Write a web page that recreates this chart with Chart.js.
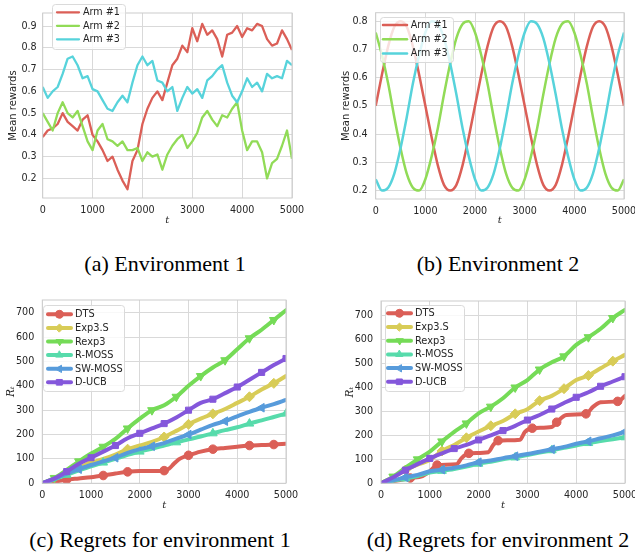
<!DOCTYPE html>
<html>
<head>
<meta charset="utf-8">
<script src="https://cdn.jsdelivr.net/npm/chart.js@4.4.0/dist/chart.umd.min.js"></script>
<style>
body { margin: 0; background: #fff; width: 635px; height: 556px; position: relative; overflow: hidden; }
canvas { position: absolute; }
.cap { position: absolute; font-family: "Liberation Serif", "DejaVu Serif", serif; font-size: 22px; line-height: 24px; color: #000; white-space: nowrap; transform: translateX(-50%); }
</style>
</head>
<body>
<canvas id="envA" width="310" height="232" style="left:0;top:0"></canvas>
<canvas id="envB" width="317" height="232" style="left:318px;top:0"></canvas>
<canvas id="regA" width="310" height="232" style="left:0;top:285px"></canvas>
<canvas id="regB" width="317" height="232" style="left:318px;top:285px"></canvas>
<div class="cap" style="left:165px;top:252px">(a) Environment 1</div>
<div class="cap" style="left:498px;top:252px">(b) Environment 2</div>
<div class="cap" style="left:160px;top:528px">(c) Regrets for environment 1</div>
<div class="cap" style="left:498px;top:528px">(d) Regrets for environment 2</div>
<script>
// time steps
const tArms = [0,100,200,300,400,500,600,700,800,900,1000,1100,1200,1300,1400,1500,1600,1700,1800,1900,2000,
    2100,2200,2300,2400,2500,2600,2700,2800,2900,3000,3100,3200,3300,3400,3500,3600,3700,3800,3900,4000,
    4100,4200,4300,4400,4500,4600,4700,4800,4900,5000];
const tSine = [0,125,250,375,500,625,750,875,1000,1125,1250,1375,1500,1625,1750,1875,2000,2125,2250,2375,2500,
    2625,2750,2875,3000,3125,3250,3375,3500,3625,3750,3875,4000,4125,4250,4375,4500,4625,4750,4875,5000];
const tReg = [0,250,500,750,1000,1250,1500,1750,2000,2250,2500,2750,3000,3250,3500,3750,4000,4250,4500,4750,5000];
const tDtsA = [0,250,500,750,1000,1250,1500,1750,2000,2250,2500,2600,2700,2800,2900,3000,3250,3500,3750,4000,4250,4500,4750,5000];
const tDtsB = [0,300,600,850,1000,1150,1550,1650,1800,2200,2300,2400,2850,2950,3100,3500,3600,3800,4200,4350,4500,4850,4950,5000];

// (a) environment 1, mean rewards
const env1Arm1 = [0.39,0.42,0.43,0.45,0.50,0.46,0.44,0.42,0.47,0.49,0.40,0.37,0.33,0.28,0.30,0.24,0.19,0.15,0.28,0.33,0.45,
    0.52,0.57,0.60,0.56,0.64,0.72,0.75,0.81,0.78,0.89,0.83,0.91,0.86,0.88,0.84,0.76,0.86,0.87,0.90,0.85,
    0.89,0.88,0.91,0.90,0.84,0.81,0.82,0.88,0.84,0.79];
const env1Arm2 = [0.50,0.46,0.42,0.50,0.55,0.50,0.48,0.51,0.44,0.37,0.33,0.42,0.45,0.38,0.37,0.35,0.37,0.33,0.33,0.34,0.28,
    0.32,0.30,0.31,0.24,0.31,0.35,0.38,0.40,0.34,0.37,0.41,0.48,0.51,0.47,0.44,0.49,0.48,0.52,0.55,0.42,
    0.33,0.37,0.37,0.32,0.20,0.27,0.29,0.35,0.42,0.29];
const env1Arm3 = [0.62,0.57,0.60,0.62,0.68,0.75,0.76,0.72,0.66,0.67,0.61,0.60,0.56,0.52,0.51,0.55,0.58,0.55,0.64,0.72,0.76,
    0.72,0.74,0.65,0.64,0.60,0.62,0.51,0.57,0.62,0.59,0.61,0.57,0.65,0.67,0.70,0.72,0.64,0.58,0.55,0.60,
    0.66,0.62,0.64,0.60,0.68,0.66,0.67,0.66,0.74,0.72];

// (b) environment 2, mean rewards
const env2Arm1 = [0.50,0.61,0.71,0.78,0.80,0.78,0.71,0.61,0.50,0.39,0.29,0.22,0.20,0.22,0.29,0.39,
    0.50,0.61,0.71,0.78,0.80,0.78,0.71,0.61,0.50,0.39,0.29,0.22,0.20,0.22,0.29,0.39,
    0.50,0.61,0.71,0.78,0.80,0.78,0.71,0.61,0.50];
const env2Arm2 = [0.76,0.68,0.58,0.46,0.35,0.26,0.21,0.20,0.24,0.32,0.42,0.54,0.65,0.74,0.79,0.80,
    0.76,0.68,0.58,0.46,0.35,0.26,0.21,0.20,0.24,0.32,0.42,0.54,0.65,0.74,0.79,0.80,
    0.76,0.68,0.58,0.46,0.35,0.26,0.21,0.20,0.24];
const env2Arm3 = [0.24,0.20,0.21,0.26,0.35,0.46,0.58,0.68,0.76,0.80,0.79,0.74,0.65,0.54,0.42,0.32,
    0.24,0.20,0.21,0.26,0.35,0.46,0.58,0.68,0.76,0.80,0.79,0.74,0.65,0.54,0.42,0.32,
    0.24,0.20,0.21,0.26,0.35,0.46,0.58,0.68,0.76];

// (c) regrets, environment 1
const r1Dts = [0,8,15,20,25,32,40,47,50,50,52,60,80,98,108,115,130,140,145,150,155,157,159,162];
const r1Exp3S = [0,18,42,65,85,100,118,140,155,170,190,215,242,265,285,305,330,355,385,410,440];
const r1Rexp3 = [0,22,55,90,122,150,182,225,265,300,320,355,400,440,475,505,550,595,630,670,710];
const r1RMoss = [0,16,35,53,70,85,100,117,130,142,155,168,180,192,205,218,230,245,258,272,286];
const r1SwMoss = [0,18,40,58,75,90,105,125,140,152,165,183,200,220,240,255,275,293,310,325,342];
const r1DUcb = [0,20,48,80,105,130,155,185,205,225,245,270,300,330,345,370,395,425,455,485,512];

// (d) regrets, environment 2
const r2Dts = [0,10,22,30,50,76,80,105,125,130,160,178,182,215,230,235,255,285,290,320,338,342,355,365];
const r2Exp3S = [0,25,55,78,97,135,160,190,216,240,260,290,309,345,365,395,431,450,480,510,536];
const r2Rexp3 = [0,28,65,100,132,175,215,250,292,320,355,400,431,475,505,530,578,610,645,690,724];
const r2RMoss = [0,10,20,30,45,52,60,70,82,90,100,108,118,128,138,148,158,168,176,184,192];
const r2SwMoss = [0,12,25,35,50,57,65,75,88,95,105,113,122,132,142,152,165,175,188,200,215];
const r2DUcb = [0,25,55,80,104,125,145,160,181,200,220,240,264,285,310,335,359,380,405,425,445];

const armLabels = ['Arm #1', 'Arm #2', 'Arm #3'];
const algoLabels = ['DTS', 'Exp3.S', 'Rexp3', 'R-MOSS', 'SW-MOSS', 'D-UCB'];
const xTicks = [0, 1000, 2000, 3000, 4000, 5000];

const armColors = ['#db5f57', '#91db57', '#57d3db'];
const algoColors = ['#db5f57', '#d8cc57', '#75db57', '#57dbab', '#579bdb', '#8457db'];
const algoMarkers = [['circle', 0], ['rectRot', 0], ['triangle', 180], ['triangle', 0], ['triangle', -90], ['rect', 0]];
const textColor = '#262626';
const gridColor = '#d9d9d9';

const frame = {
    id: 'frame',
    afterDatasetsDraw(chart) {
        const { ctx, chartArea: a } = chart;
        ctx.save();
        ctx.strokeStyle = '#cccccc';
        ctx.lineWidth = 1;
        ctx.strokeRect(a.left, a.top, a.right - a.left, a.bottom - a.top);
        ctx.restore();
    }
};

// legend drawn inside the plot, like matplotlib's
const innerLegend = {
    id: 'innerLegend',
    afterDraw(chart, args, o) {
        const ctx = chart.ctx;
        ctx.save();
        ctx.fillStyle = 'rgba(255,255,255,0.8)';
        ctx.strokeStyle = '#dadada';
        ctx.lineWidth = 1;
        ctx.beginPath();
        ctx.roundRect(o.x + 0.5, o.y + 0.5, o.w, o.h, 3);
        ctx.fill();
        ctx.stroke();
        ctx.font = o.font;
        ctx.textBaseline = 'middle';
        chart.data.datasets.forEach((d, i) => {
            const cy = o.row0 + i * o.rowH;
            ctx.strokeStyle = d.borderColor;
            ctx.lineWidth = d.borderWidth;
            ctx.lineCap = 'round';
            ctx.beginPath();
            ctx.moveTo(o.lx0, cy);
            ctx.lineTo(o.lx1, cy);
            ctx.stroke();
            if (o.markers) {
                ctx.fillStyle = d.borderColor;
                ctx.lineWidth = 1;
                Chart.helpers.drawPoint(ctx, { pointStyle: d.pointStyle, rotation: d.pointRotation, radius: o.r, borderWidth: 1 }, (o.lx0 + o.lx1) / 2, cy);
            }
            ctx.fillStyle = textColor;
            ctx.fillText(d.label, o.tx, cy + 0.5);
        });
        ctx.restore();
    }
};

function scales(g) {
    return {
        x: {
            type: 'linear', min: 0, max: 5000,
            afterBuildTicks: s => { s.ticks = xTicks.map(v => ({ value: v })); },
            ticks: { padding: 6.5, color: textColor, font: { family: 'DejaVu Sans', size: 9.6 }, maxRotation: 0, autoSkip: false,
                callback: v => String(v) },
            grid: { color: gridColor, drawTicks: false },
            border: { display: false },
            title: { display: true, text: 't', color: textColor, font: { family: 'DejaVu Serif', style: 'italic', size: 10 }, padding: { top: 0, bottom: 5.5 } },
            afterFit: s => { s.height = g.xH; s.paddingLeft = 0; s.paddingRight = 0; }
        },
        y: {
            type: 'linear', min: g.yMin, max: g.yMax,
            ticks: { stepSize: g.step, includeBounds: false, padding: g.yPad, color: textColor, font: { family: 'DejaVu Sans', size: 9.6 },
                callback: v => g.step < 1 ? v.toFixed(1) : String(v) },
            grid: { color: gridColor, drawTicks: false },
            border: { display: false },
            title: { display: true, text: g.yTitle, color: textColor, font: g.yFont, padding: { top: g.yTitlePad, bottom: 0 } },
            afterFit: s => { s.width = g.yW; s.paddingTop = 0; s.paddingBottom = 0; }
        }
    };
}

function pts(ts, vals) {
    return vals.map((v, i) => ({ x: ts[i], y: v }));
}

function armSets(ts, series, width, smooth) {
    return series.map((vals, i) => ({
        label: armLabels[i],
        data: pts(ts, vals),
        borderColor: armColors[i],
        borderWidth: width,
        pointRadius: 0,
        tension: 0,
        cubicInterpolationMode: smooth ? 'monotone' : 'default',
        borderJoinStyle: 'round',
        order: -i
    }));
}

function algoSets(tsList, series, marks) {
    return series.map((vals, i) => ({
        label: algoLabels[i],
        data: pts(tsList[i], vals),
        borderColor: algoColors[i],
        backgroundColor: algoColors[i],
        borderWidth: 4,
        pointStyle: algoMarkers[i][0],
        pointRotation: algoMarkers[i][1],
        pointRadius: vals.map((v, k) => marks[i].includes(k) ? (i === 0 || i === 5 ? 4.3 : 5) : 0),
        pointBorderWidth: 1,
        cubicInterpolationMode: 'monotone',
        borderJoinStyle: 'round',
        borderCapStyle: 'round',
        order: -i
    }));
}

function makeChart(id, datasets, g, legend) {
    new Chart(document.getElementById(id), {
        type: 'line',
        data: { datasets: datasets },
        options: {
            responsive: false,
            animation: false,
            layout: { padding: { left: 0, top: g.padTop, right: g.padRight, bottom: 0 } },
            scales: scales(g),
            plugins: { legend: { display: false }, tooltip: { enabled: false }, innerLegend: legend }
        },
        plugins: [frame, innerLegend]
    });
}

const armFont = { family: 'DejaVu Sans', size: 10 };
const rFont = { family: 'DejaVu Serif', style: 'italic', size: 10.5 };

makeChart('envA', armSets(tArms, [env1Arm1, env1Arm2, env1Arm3], 2.3, false),
    { yMin: 0.11, yMax: 0.96, step: 0.1, yW: 42.7, xH: 34, padTop: 13, padRight: 18, yPad: 6, yTitle: 'Mean rewards', yFont: armFont, yTitlePad: 7 },
    { x: 52, y: 4, w: 73, h: 45, row0: 12.3, rowH: 13.5, lx0: 57, lx1: 79, tx: 83, font: '9.6px "DejaVu Sans"', markers: false });

makeChart('envB', armSets(tSine, [env2Arm1, env2Arm2, env2Arm3], 2.5, true),
    { yMin: 0.17, yMax: 0.83, step: 0.1, yW: 57.7, xH: 33, padTop: 12.7, padRight: 11, yPad: 8, yTitle: 'Mean rewards', yFont: armFont, yTitlePad: 22 },
    { x: 62, y: 17, w: 73, h: 45, row0: 25, rowH: 14.2, lx0: 65, lx1: 89, tx: 92.7, font: '9.6px "DejaVu Sans"', markers: false });

makeChart('regA', algoSets([tDtsA, tReg, tReg, tReg, tReg, tReg], [r1Dts, r1Exp3S, r1Rexp3, r1RMoss, r1SwMoss, r1DUcb],
        [[2, 5, 7, 10, 15, 17, 20, 22], [4, 7, 10, 12, 14, 17, 19], [1, 3, 5, 7, 9, 11, 13, 15, 17, 19], [2, 5, 8, 11, 14, 17, 20], [3, 6, 9, 12, 15, 18], [2, 4, 6, 8, 10, 12, 14, 16, 18, 20]]),
    { yMin: 0, yMax: 752, step: 100, yW: 42.3, xH: 33.7, padTop: 15, padRight: 24, yPad: 8, yTitle: 'Rₜ', yFont: rFont, yTitlePad: 5.4 },
    { x: 43, y: 20, w: 81, h: 86, row0: 29.3, rowH: 13.6, lx0: 48, lx1: 71, tx: 75, font: '9.8px "DejaVu Sans"', markers: true, r: 4 });

makeChart('regB', algoSets([tDtsB, tReg, tReg, tReg, tReg, tReg], [r2Dts, r2Exp3S, r2Rexp3, r2RMoss, r2SwMoss, r2DUcb],
        [[2, 5, 8, 11, 14, 16, 18, 21], [2, 5, 7, 9, 11, 13, 15, 17, 19], [1, 3, 5, 7, 9, 11, 13, 15, 17, 19], [2, 5, 8, 11, 14, 17, 20], [2, 5, 8, 11, 14, 17, 20], [2, 4, 6, 8, 10, 12, 14, 16, 18, 20]]),
    { yMin: 0, yMax: 761, step: 100, yW: 63, xH: 33.7, padTop: 16, padRight: 10, yPad: 8, yTitle: 'Rₜ', yFont: rFont, yTitlePad: 25.7 },
    { x: 67, y: 20, w: 79, h: 86, row0: 28.3, rowH: 13.7, lx0: 70, lx1: 93, tx: 97, font: '9.8px "DejaVu Sans"', markers: true, r: 4 });
</script>
</body>
</html>
